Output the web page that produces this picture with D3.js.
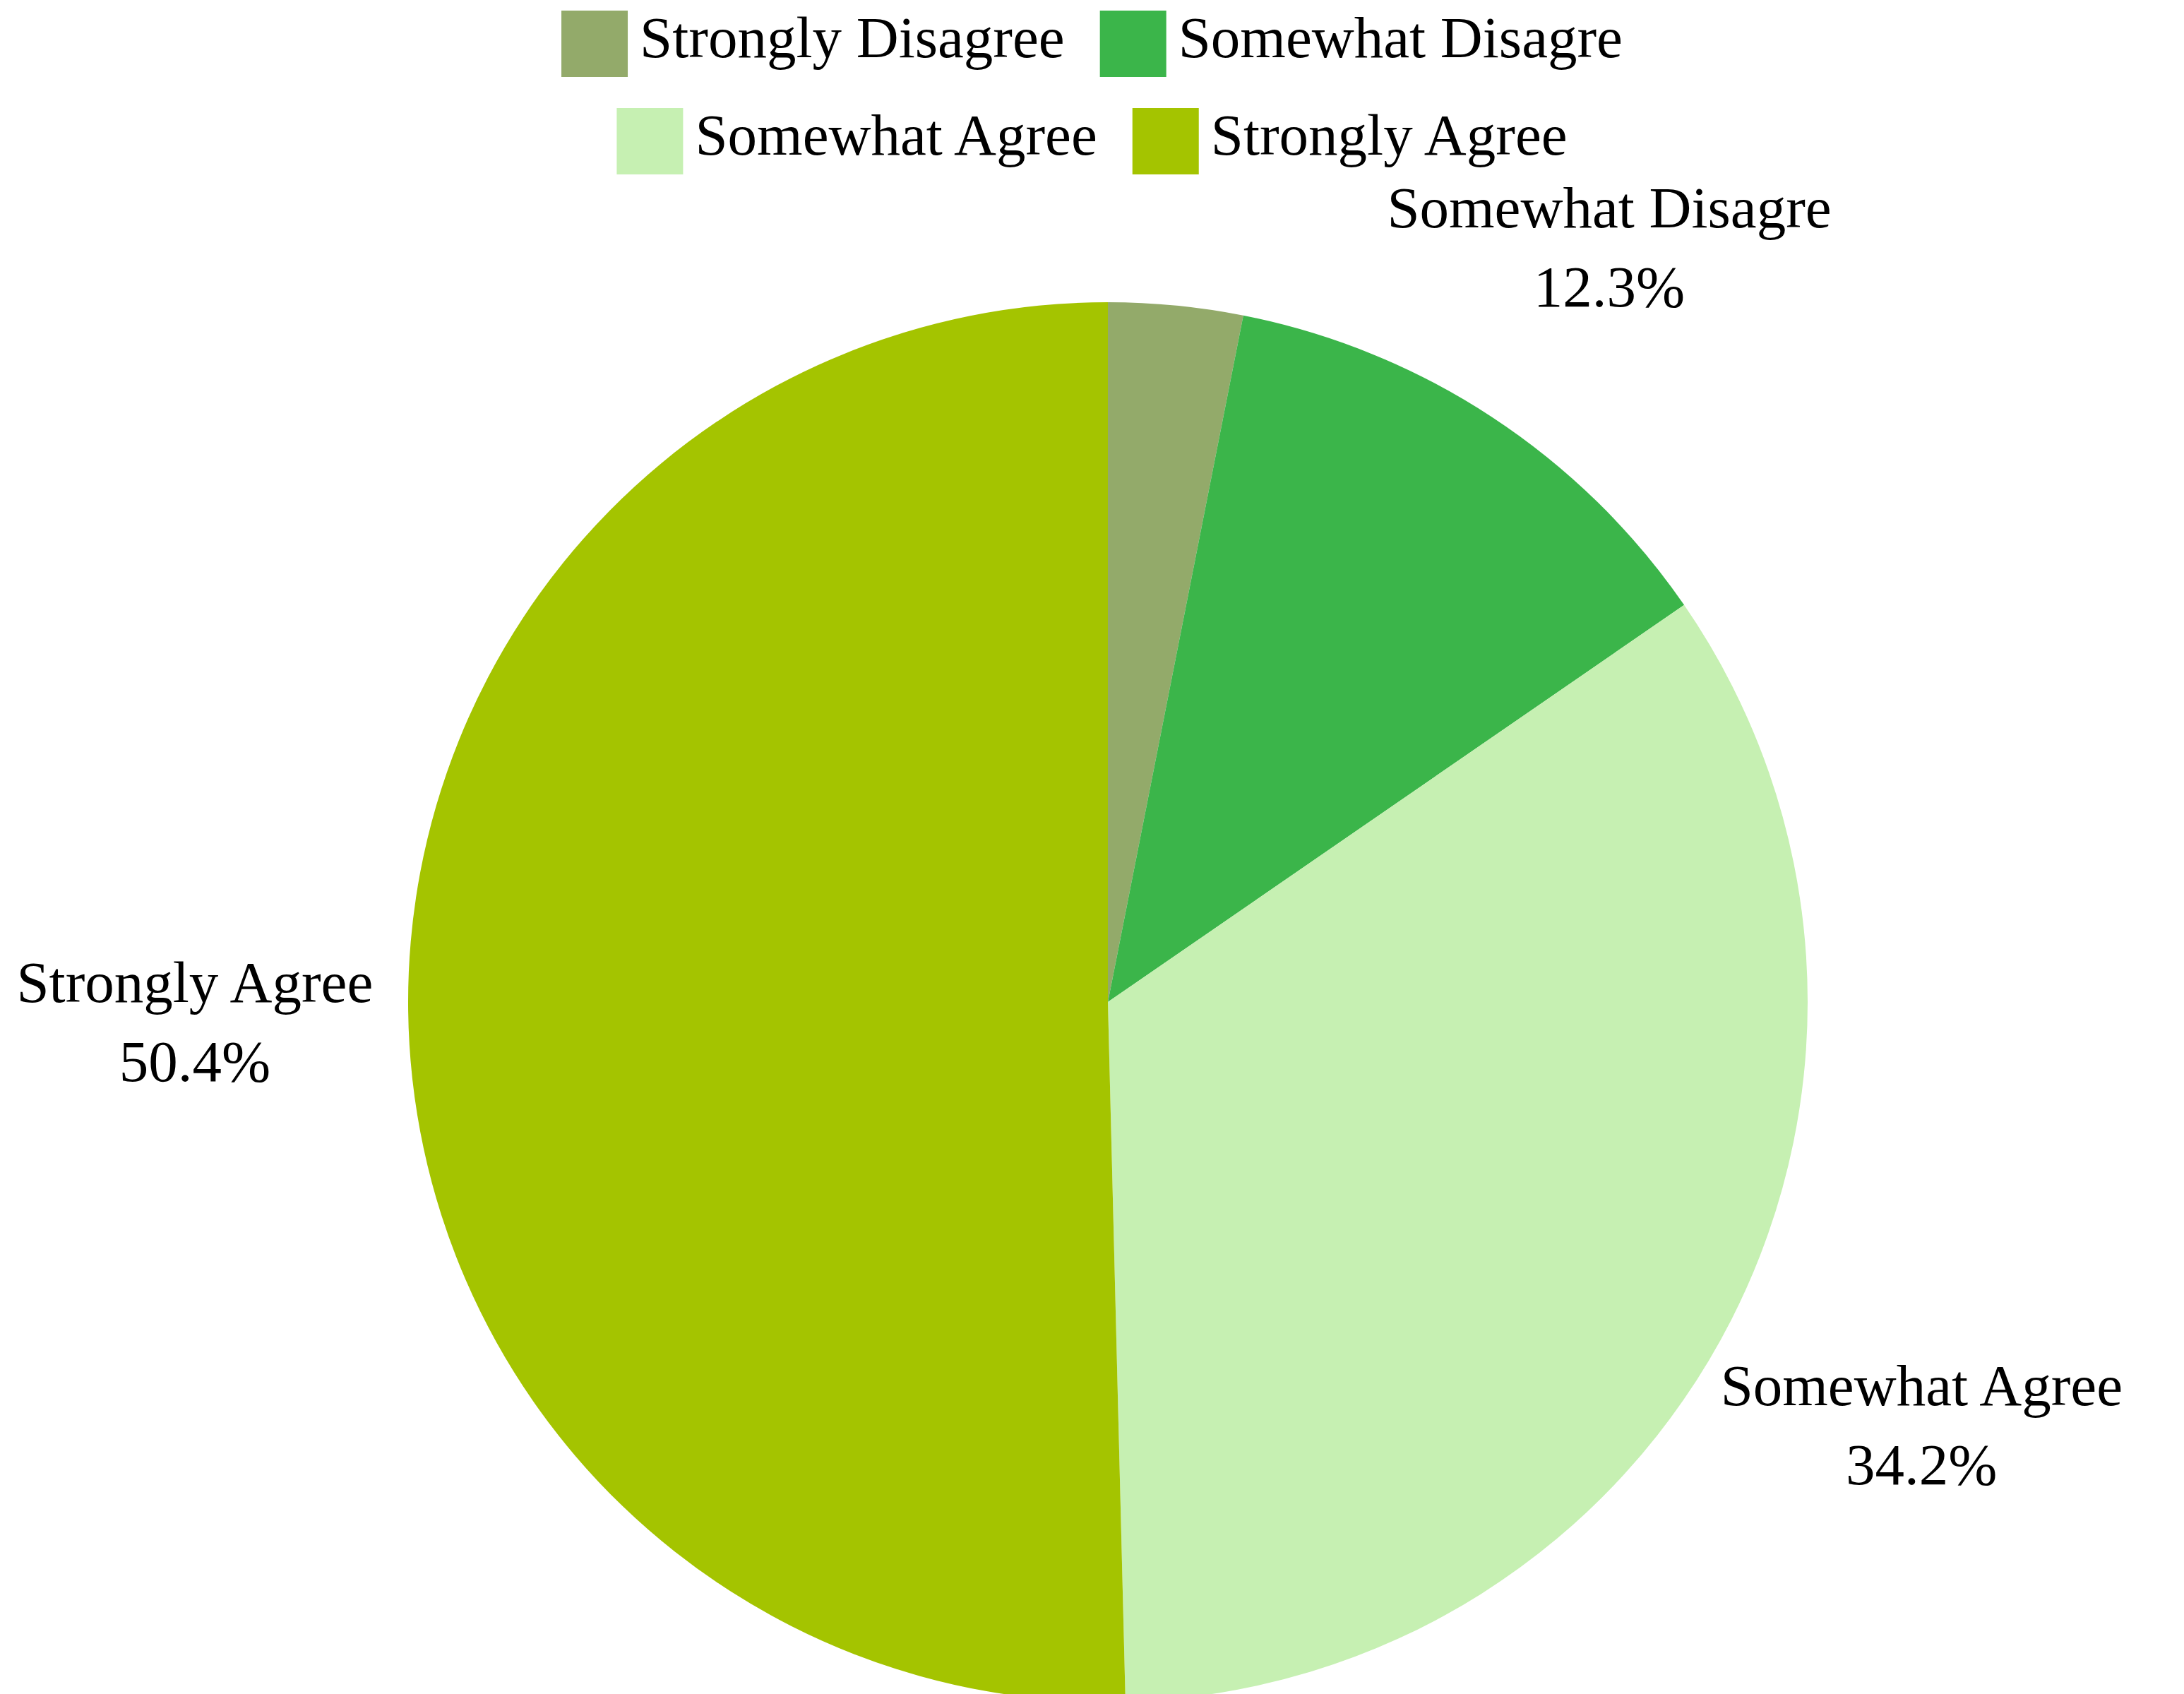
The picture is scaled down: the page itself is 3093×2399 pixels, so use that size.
<!DOCTYPE html>
<html>
<head>
<meta charset="utf-8">
<script src="https://cdn.jsdelivr.net/npm/d3@7"></script>
<style>
  html, body { margin: 0; padding: 0; background: #fff; }
  svg { display: block; font-family: "Liberation Serif", "DejaVu Serif", serif; }
</style>
</head>
<body>
<svg width="3093" height="2399"></svg>
<script>
// DATA

var categories = ["Strongly Disagree", "Somewhat Disagre", "Somewhat Agree", "Strongly Agree"];
var legendLabels = ["Strongly Disagree", "Somewhat Disagre", "Somewhat Agree", "Strongly Agree"];
var shares = [3.1, 12.3, 34.2, 50.4];
var sliceColors = ["#93aa6a", "#3bb54a", "#c6f0b2", "#a4c400"];

// SETUP

var svg = d3.select("svg"),
    width = +svg.attr("width"),
    cx = 1569,
    cy = 1419,
    radius = 991,
    fontSize = 83;

var color = d3.scaleOrdinal().domain(categories).range(sliceColors);

var data = categories.map(function (c, i) { return { name: c, value: shares[i] }; });

var pie = d3.pie()
  .sort(null)
  .value(function (d) { return d.value; });

var arc = d3.arc().innerRadius(0).outerRadius(radius);
var labelArc = d3.arc().innerRadius(radius * 1.305).outerRadius(radius * 1.305);

var g = svg.append("g")
  .attr("transform", "translate(" + cx + "," + cy + ")");

// SLICES

g.selectAll(".slice")
  .data(pie(data))
  .enter().append("path")
    .attr("class", "slice")
    .attr("d", arc)
    .attr("fill", function (d) { return color(d.data.name); });

// LABELS (the smallest slice has none)

var labels = g.selectAll(".label")
  .data(pie(data).filter(function (d) { return d.data.value > 5; }))
  .enter().append("text")
    .attr("class", "label")
    .attr("text-anchor", "middle")
    .style("font-size", fontSize + "px")
    .attr("transform", function (d) { return "translate(" + labelArc.centroid(d) + ")"; });

labels.append("tspan")
  .attr("x", 0)
  .attr("y", -16)
  .text(function (d) { return d.data.name; });

labels.append("tspan")
  .attr("x", 0)
  .attr("y", 96)
  .text(function (d) { return d.data.value.toFixed(1) + "%"; });

// LEGEND

var rows = [[0, 1], [2, 3]],
    sw = 94,
    swGap = 17,
    itemGap = 50,
    rowCenters = [62, 200];

rows.forEach(function (row, r) {
  var row_g = svg.append("g").attr("class", "legend-row");
  var x = 0;
  row.forEach(function (i) {
    var item = row_g.append("g").attr("transform", "translate(" + x + ",0)");
    item.append("rect")
      .attr("x", 0)
      .attr("y", rowCenters[r] - sw / 2)
      .attr("width", sw)
      .attr("height", sw)
      .attr("fill", color(categories[i]));
    var t = item.append("text")
      .attr("x", sw + swGap)
      .attr("y", rowCenters[r] + 19)
      .style("font-size", fontSize + "px")
      .text(legendLabels[i]);
    x += sw + swGap + t.node().getComputedTextLength() + itemGap;
  });
  var rowWidth = x - itemGap;
  row_g.attr("transform", "translate(" + (width / 2 - rowWidth / 2) + ",0)");
});
</script>
</body>
</html>
